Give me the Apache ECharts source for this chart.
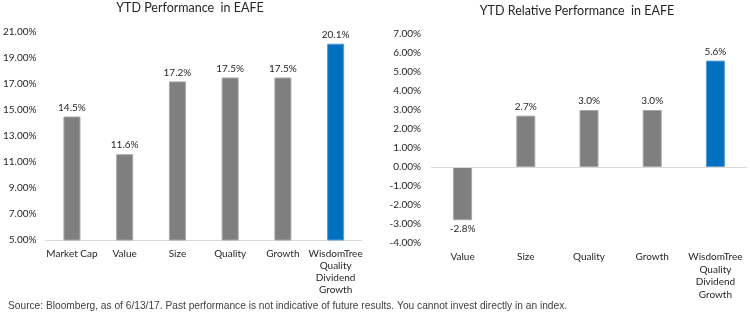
<!DOCTYPE html>
<html lang="en">
<head>
  <meta charset="UTF-8">
  <title>YTD Performance in EAFE</title>
  <script src="https://cdn.jsdelivr.net/npm/echarts@6/dist/echarts.min.js"></script>
  <style>
    html, body { margin: 0; padding: 0; background: #fff; }
    #main { width: 750px; height: 316px; }
  </style>
</head>
<body>
  <div id="main"></div>
<script>
  // left chart: absolute performance
  var absCategories = ['Market Cap', 'Value', 'Size', 'Quality', 'Growth', 'WisdomTree\nQuality\nDividend\nGrowth'];
  var absValues = [14.5, 11.6, 17.2, 17.5, 17.5, 20.1];
  // right chart: relative to market cap
  var relCategories = ['Value', 'Size', 'Quality', 'Growth', 'WisdomTree\nQuality\nDividend\nGrowth'];
  var relValues = [-2.8, 2.7, 3.0, 3.0, 5.6];

  var grey = '#7f7f7f', blue = '#0070c0';
  var font = 'Lato';

  function barData(vals) {
    return vals.map(function (v, i) {
      var last = i === vals.length - 1;
      return {
        value: v,
        itemStyle: { color: last ? blue : grey, borderColor: last ? '#5b9bd5' : '#a6a6a6', borderWidth: 1 },
        label: { position: v < 0 ? 'bottom' : 'top' }
      };
    });
  }

  var axisText = { color: '#262626', fontFamily: font, fontSize: 10 };

  var myChart = echarts.init(document.getElementById('main'));
  var option = {
    animation: false,
    title: [
      { text: 'YTD Performance  in EAFE', left: 185, top: -4, textAlign: 'center',
        textStyle: { fontFamily: font, fontSize: 12.5, fontWeight: 'normal', color: '#262626' } },
      { text: 'YTD Relative Performance  in EAFE', left: 572, top: -1, textAlign: 'center',
        textStyle: { fontFamily: font, fontSize: 12.5, fontWeight: 'normal', color: '#262626' } },
      { text: 'Source: Bloomberg, as of 6/13/17. Past performance is not indicative of future results. You cannot invest directly in an index.',
        left: 3, top: 296, textStyle: { fontFamily: 'Liberation Sans', fontSize: 10.2, fontWeight: 'normal', color: '#404040' } }
    ],
    grid: [
      { left: 42, width: 320, top: 32, height: 208 },
      { left: 431, width: 316, top: 34, height: 209 }
    ],
    xAxis: [
      { type: 'category', gridIndex: 0, data: absCategories,
        axisLine: { lineStyle: { color: '#d9d9d9' } }, axisTick: { show: false },
        axisLabel: Object.assign({ interval: 0, margin: 8, lineHeight: 12 }, axisText) },
      { type: 'category', gridIndex: 1, data: relCategories,
        axisLine: { show: false, onZero: false }, axisTick: { show: false },
        axisLabel: Object.assign({ interval: 0, margin: 8, lineHeight: 12.5 }, axisText) }
    ],
    yAxis: [
      { type: 'value', gridIndex: 0, min: 5, max: 21, interval: 2, splitLine: { show: false },
        axisLabel: Object.assign({ margin: 9, formatter: function (v) { return v.toFixed(2) + '%'; } }, axisText) },
      { type: 'value', gridIndex: 1, min: -4, max: 7, interval: 1, splitLine: { show: false },
        axisLabel: Object.assign({ margin: 10, formatter: function (v) { return v.toFixed(2) + '%'; } }, axisText) }
    ],
    series: [
      { type: 'bar', xAxisIndex: 0, yAxisIndex: 0, barWidth: 17, data: barData(absValues),
        label: Object.assign({ show: true, distance: 4, formatter: function (p) { return p.value.toFixed(1) + '%'; } }, axisText) },
      { type: 'bar', xAxisIndex: 1, yAxisIndex: 1, barWidth: 19, data: barData(relValues),
        label: Object.assign({ show: true, distance: 4, formatter: function (p) { return p.value.toFixed(1) + '%'; } }, axisText),
        markLine: { silent: true, symbol: 'none', label: { show: false },
          lineStyle: { color: '#d9d9d9', type: 'solid', width: 1 }, data: [{ yAxis: 0 }] } }
    ]
  };
  myChart.setOption(option);
</script>
</body>
</html>
